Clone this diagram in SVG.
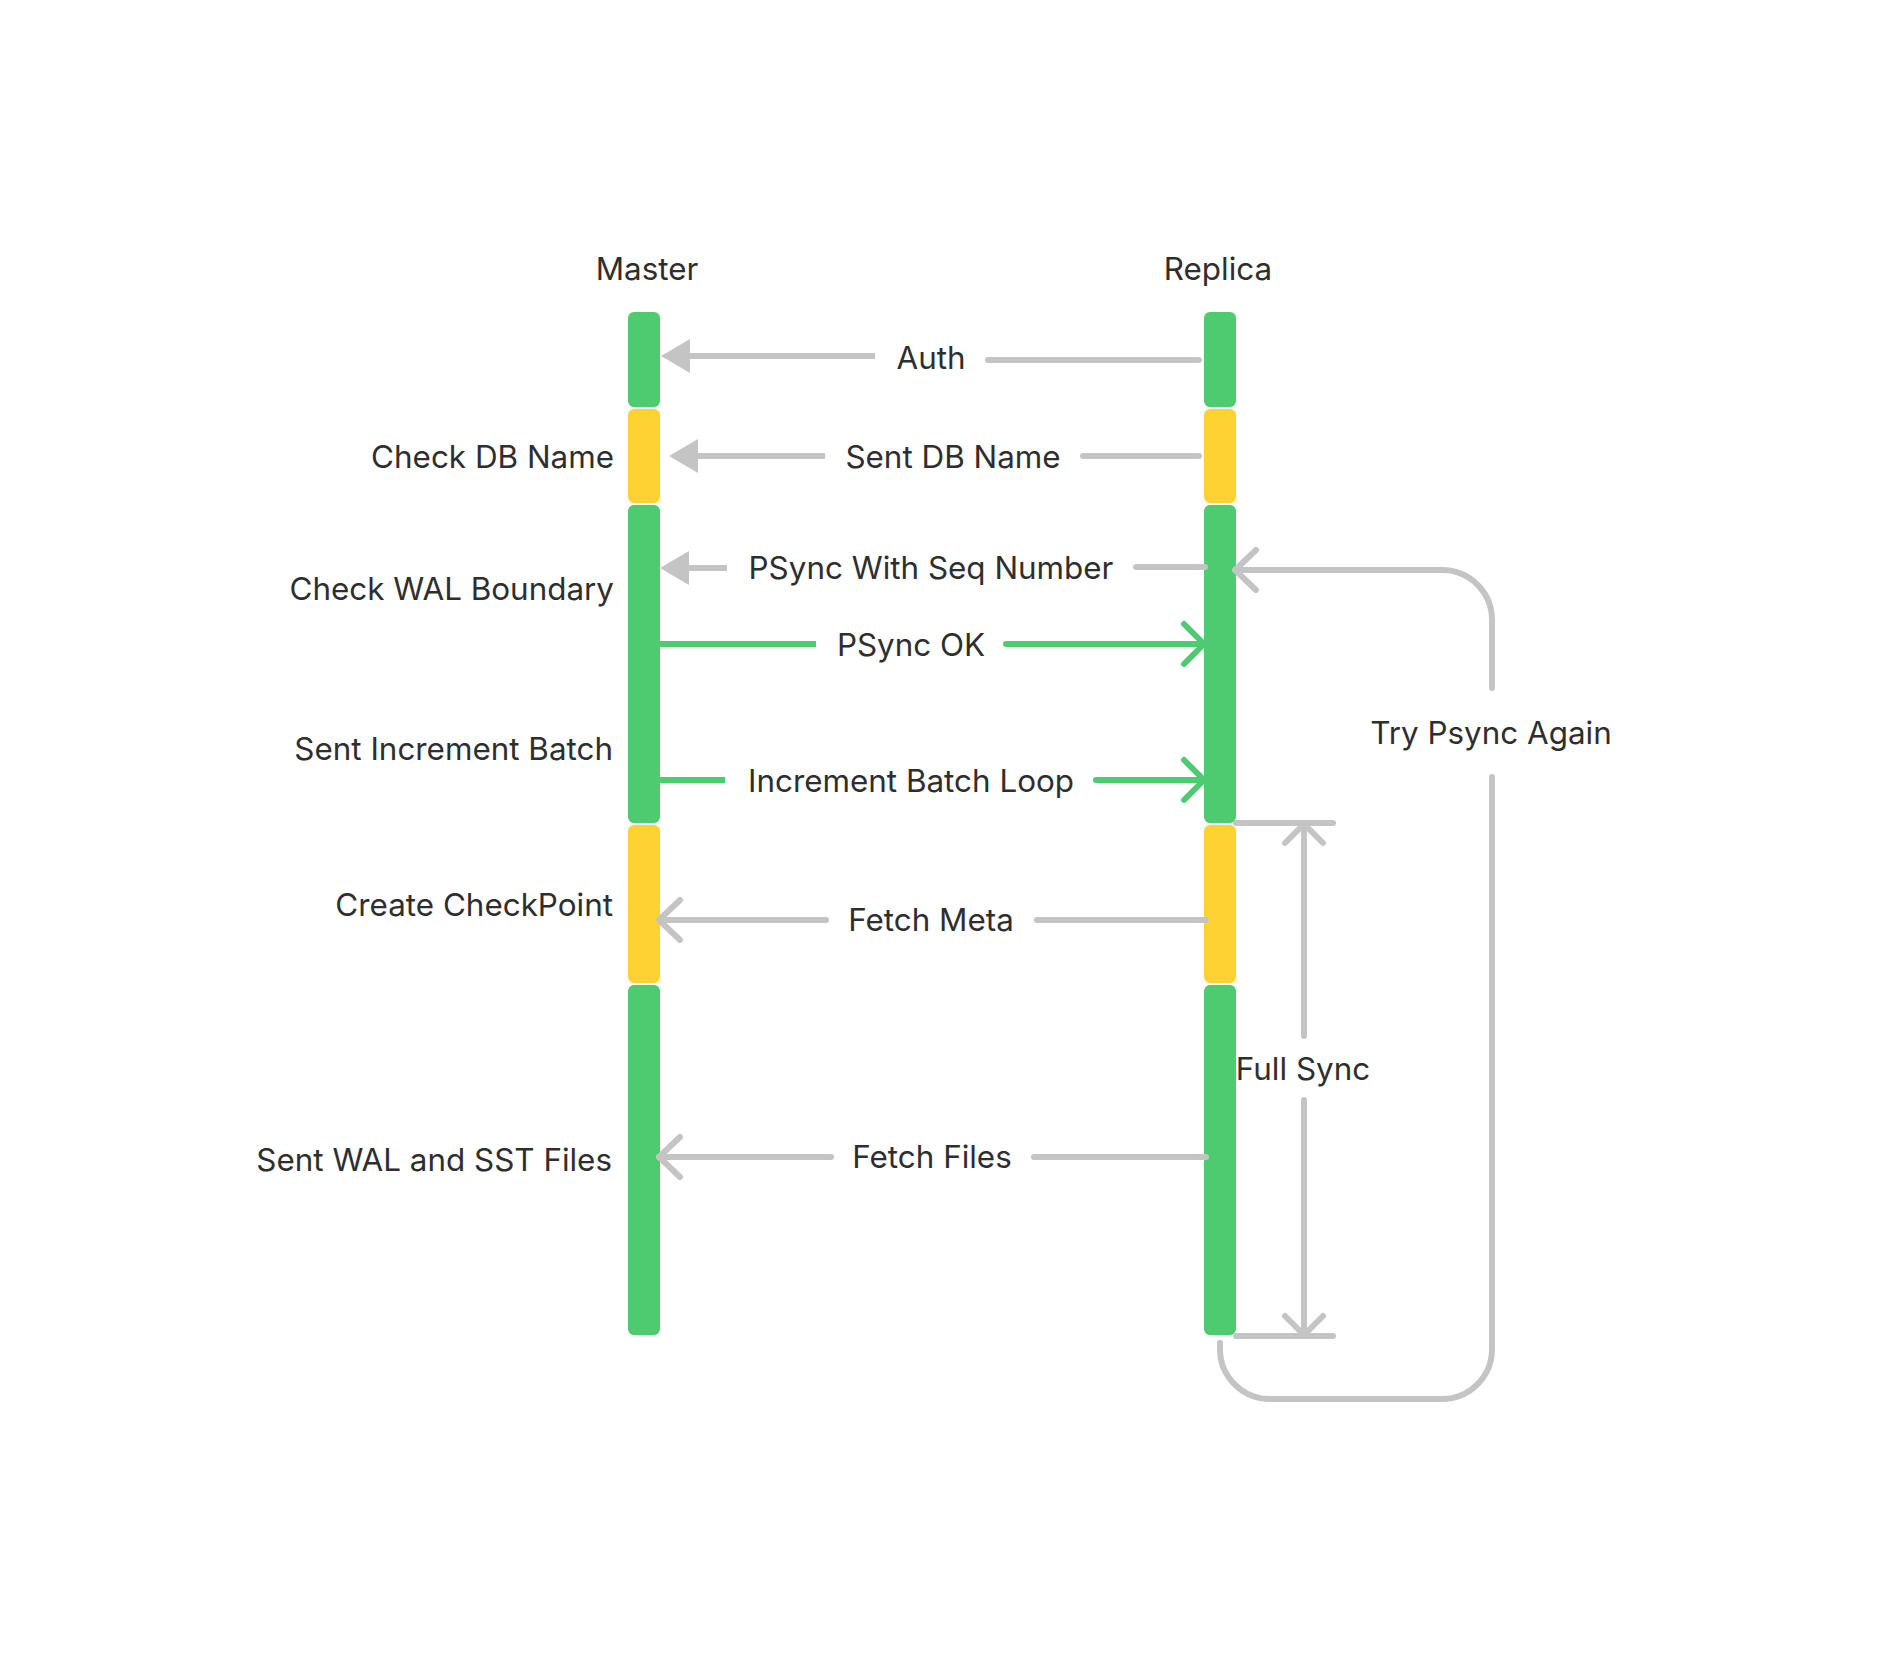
<svg xmlns="http://www.w3.org/2000/svg" width="1889" height="1659" viewBox="0 0 1889 1659">
<style>
.t{font-family:Inter,"Noto Sans","Liberation Sans",sans-serif;font-size:31.4px;fill:#2e2e2e;dominant-baseline:central}
.m{text-anchor:middle}
.r{text-anchor:end}
.g{fill:#4ECB71}
.y{fill:#FFD234}
.gl{stroke:#C4C4C4;stroke-width:6;fill:none;stroke-linecap:round;stroke-linejoin:round}
.gn{stroke:#4ECB71;stroke-width:6;fill:none;stroke-linecap:round;stroke-linejoin:round}
.tri{fill:#C4C4C4}
</style>
<rect width="1889" height="1659" fill="#FFFFFF"/>
<g id="master">
<text class="t m" x="647" y="269">Master</text>
<rect class="g" x="628" y="312" width="32" height="95" rx="6"/>
<rect class="y" x="628" y="409" width="32" height="94" rx="6"/>
<rect class="g" x="628" y="505" width="32" height="318" rx="6"/>
<rect class="y" x="628" y="825" width="32" height="158" rx="6"/>
<rect class="g" x="628" y="985" width="32" height="350" rx="6"/>
</g>
<g id="replica">
<text class="t m" x="1218" y="269">Replica</text>
<rect class="g" x="1204" y="312" width="32" height="95" rx="6"/>
<rect class="y" x="1204" y="409" width="32" height="94" rx="6"/>
<rect class="g" x="1204" y="505" width="32" height="318" rx="6"/>
<rect class="y" x="1204" y="825" width="32" height="158" rx="6"/>
<rect class="g" x="1204" y="985" width="32" height="350" rx="6"/>
</g>
<g id="master-labels">
<text class="t r" x="614" y="457">Check DB Name</text>
<text class="t r" x="614" y="589">Check WAL Boundary</text>
<text class="t r" x="613" y="749">Sent Increment Batch</text>
<text class="t r" x="613" y="905">Create CheckPoint</text>
<text class="t r" x="612" y="1160">Sent WAL and SST Files</text>
</g>
<g id="connectors">
<!-- Auth -->
<line class="gl" x1="690" y1="356" x2="875" y2="356" style="stroke-linecap:butt"/>
<line class="gl" x1="988" y1="360" x2="1199" y2="360"/>
<polygon class="tri" points="661,356 690,339 690,373"/>
<!-- Sent DB Name -->
<line class="gl" x1="698" y1="456" x2="825" y2="456" style="stroke-linecap:butt"/>
<line class="gl" x1="1083" y1="456" x2="1199" y2="456"/>
<polygon class="tri" points="669,456 698,439 698,473"/>
<!-- PSync With Seq Number -->
<line class="gl" x1="689" y1="568" x2="727" y2="568" style="stroke-linecap:butt"/>
<line class="gl" x1="1136" y1="567" x2="1205" y2="567"/>
<polygon class="tri" points="660,568 689,551 689,585"/>
<!-- PSync OK -->
<line class="gn" x1="660" y1="644" x2="816" y2="644" style="stroke-linecap:butt"/>
<line class="gn" x1="1006" y1="644" x2="1202" y2="644"/>
<polyline class="gn" points="1184,624 1204,644 1184,664"/>
<!-- Increment Batch Loop -->
<line class="gn" x1="660" y1="780" x2="725" y2="780" style="stroke-linecap:butt"/>
<line class="gn" x1="1096" y1="780" x2="1202" y2="780"/>
<polyline class="gn" points="1184,760 1204,780 1184,800"/>
<!-- Fetch Meta -->
<line class="gl" x1="659" y1="920" x2="826" y2="920"/>
<line class="gl" x1="1037" y1="920" x2="1206" y2="920"/>
<polyline class="gl" points="680,900 659,920 680,940"/>
<!-- Fetch Files -->
<line class="gl" x1="659" y1="1157" x2="831" y2="1157"/>
<line class="gl" x1="1034" y1="1157" x2="1206" y2="1157"/>
<polyline class="gl" points="680,1137 659,1157 680,1177"/>
<!-- Full Sync -->
<line class="gl" x1="1236" y1="823" x2="1333" y2="823"/>
<line class="gl" x1="1236" y1="1336" x2="1333" y2="1336"/>
<line class="gl" x1="1304" y1="825" x2="1304" y2="1036"/>
<line class="gl" x1="1304" y1="1100" x2="1304" y2="1334"/>
<polyline class="gl" points="1285,843 1304,824 1323,843"/>
<polyline class="gl" points="1285,1316 1304,1335 1323,1316"/>
<!-- Try Psync Again loop -->
<path class="gl" d="M1220,1343 V1349 A50,50 0 0 0 1270,1399 H1442 A50,50 0 0 0 1492,1349 V777"/>
<path class="gl" d="M1492,688 V620 A50,50 0 0 0 1442,570 H1236"/>
<polyline class="gl" points="1256,550 1235,570 1256,590"/>
</g>
<g id="connector-labels">
<text class="t m" x="931" y="358">Auth</text>
<text class="t m" x="953" y="457">Sent DB Name</text>
<text class="t m" x="931" y="568">PSync With Seq Number</text>
<text class="t m" x="911" y="645">PSync OK</text>
<text class="t m" x="911" y="781">Increment Batch Loop</text>
<text class="t m" x="931" y="920">Fetch Meta</text>
<text class="t m" x="932" y="1157">Fetch Files</text>
<text class="t m" x="1303" y="1069">Full Sync</text>
<text class="t m" x="1491" y="733">Try Psync Again</text>
</g>
</svg>
